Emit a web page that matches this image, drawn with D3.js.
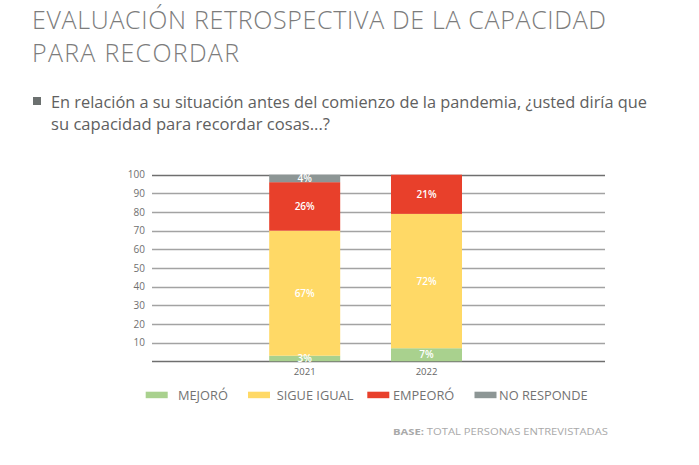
<!DOCTYPE html>
<html><head><meta charset="utf-8">
<script src="https://cdn.jsdelivr.net/npm/d3@7"></script>
<style>
html,body{margin:0;padding:0;background:#fff;}
svg{display:block;font-family:"Open Sans",sans-serif;}
</style></head>
<body><svg id="c" width="699" height="465"></svg>
<script>
const years = ["2021", "2022"];
const seriesNames = ["MEJORÓ", "SIGUE IGUAL", "EMPEORÓ", "NO RESPONDE"];
const mejoro = [3, 7];
const sigueIgual = [67, 72];
const empeoro = [26, 21];
const noResponde = [4, 0];
const yTicks = [10, 20, 30, 40, 50, 60, 70, 80, 90, 100];
const colors = ["#a9d18e", "#ffd966", "#e8402b", "#8d9695"];
const labelColors = ["#ffffff", "#ffffff", "#ffffff", "#ffffff"];

const rows = years.map((y, i) => ({year: y, "MEJORÓ": mejoro[i], "SIGUE IGUAL": sigueIgual[i], "EMPEORÓ": empeoro[i], "NO RESPONDE": noResponde[i]}));

const svg = d3.select("#c");

// Title
const title = svg.append("g").attr("fill", "#7c7c7c").style("font-weight", 300).style("font-size", "25px");
title.append("text").attr("x", 32).attr("y", 29).attr("textLength", 574).attr("lengthAdjust", "spacing").text("EVALUACIÓN RETROSPECTIVA DE LA CAPACIDAD");
title.append("text").attr("x", 32).attr("y", 62).attr("textLength", 207).attr("lengthAdjust", "spacing").text("PARA RECORDAR");

// Subtitle
svg.append("rect").attr("x", 33).attr("y", 97).attr("width", 8).attr("height", 8).attr("fill", "#6b706f");
const sub = svg.append("g").attr("fill", "#606060").style("font-size", "15.5px");
sub.append("text").attr("x", 51).attr("y", 107.5).attr("textLength", 596).attr("lengthAdjust", "spacingAndGlyphs").text("En relación a su situación antes del comienzo de la pandemia, ¿usted diría que");
sub.append("text").attr("x", 51).attr("y", 130).attr("textLength", 279).attr("lengthAdjust", "spacingAndGlyphs").text("su capacidad para recordar cosas...?");

// Scales
const plotL = 152, plotR = 605;
const y = d3.scaleLinear().domain([0, 100]).range([361.3, 174.7]);
const x = d3.scaleBand().domain(years).range([243.8, 487.4]).paddingInner(0.417).paddingOuter(0.2085);

// Grid
const grid = svg.append("g");
grid.selectAll("line").data([0].concat(yTicks)).join("line")
  .attr("x1", plotL).attr("x2", plotR)
  .attr("y1", d => Math.round(y(d)) + 0.5).attr("y2", d => Math.round(y(d)) + 0.5)
  .attr("stroke", d => (d === 0 || d === 100) ? "#6f6f6f" : "#a3a3a3")
  .attr("stroke-width", 1.3);

// Y axis labels
const yAxis = d3.axisLeft(y).tickValues(yTicks).tickSize(0).tickPadding(0);
const yg = svg.append("g").attr("transform", `translate(145,0)`).call(yAxis);
yg.select(".domain").remove();
yg.selectAll("text").attr("fill", "#6f6f6f").style("font-size", "10px").style("font-family", "'Open Sans',sans-serif");

// Stack
const stack = d3.stack().keys(seriesNames);
const layers = stack(rows);

const lg = svg.append("g");
layers.forEach((layer, si) => {
  lg.append("g").selectAll("rect").data(layer.filter(d => d[1] - d[0] > 0)).join("rect")
    .attr("x", d => x(d.data.year))
    .attr("width", x.bandwidth())
    .attr("y", d => y(d[1]))
    .attr("height", d => y(d[0]) - y(d[1]))
    .attr("fill", colors[si]);
});
layers.forEach((layer, si) => {
  lg.append("g").selectAll("text").data(layer.filter(d => d[1] - d[0] > 0)).join("text")
    .attr("x", d => x(d.data.year) + x.bandwidth() / 2)
    .attr("y", d => (y(d[0]) + y(d[1])) / 2 + 3.5)
    .attr("text-anchor", "middle")
    .attr("fill", labelColors[si])
    .style("font-size", "10px").style("font-weight", 600)
    .text(d => (d[1] - d[0]) + "%");
});

// X axis labels
const xAxis = d3.axisBottom(x).tickSize(0).tickPadding(0);
const xg = svg.append("g").attr("transform", `translate(0,${374.5 - 9})`).call(xAxis);
xg.select(".domain").remove();
xg.selectAll("text").attr("fill", "#666").style("font-size", "9.5px").style("font-family", "'Open Sans',sans-serif").attr("dy", 0).attr("y", 9);

// Legend
const legendX = [145.7, 248, 367.3, 474.5];
const legendTextX = [178, 276.7, 393, 499];
const leg = svg.append("g");
seriesNames.forEach((n, i) => {
  leg.append("rect").attr("x", legendX[i]).attr("y", 391.7).attr("width", 22).attr("height", 6.5).attr("fill", colors[i]);
  leg.append("text").attr("x", legendTextX[i]).attr("y", 399.5).attr("fill", "#737373").style("font-size", "12.8px").text(n);
});

// Footnote
const fn = svg.append("text").attr("x", 393).attr("y", 435).attr("fill", "#a9a9a9").style("font-size", "9.5px").attr("textLength", 215).attr("lengthAdjust", "spacingAndGlyphs");
fn.append("tspan").style("font-weight", 700).text("BASE:");
fn.append("tspan").text(" TOTAL PERSONAS ENTREVISTADAS");
</script></body></html>
